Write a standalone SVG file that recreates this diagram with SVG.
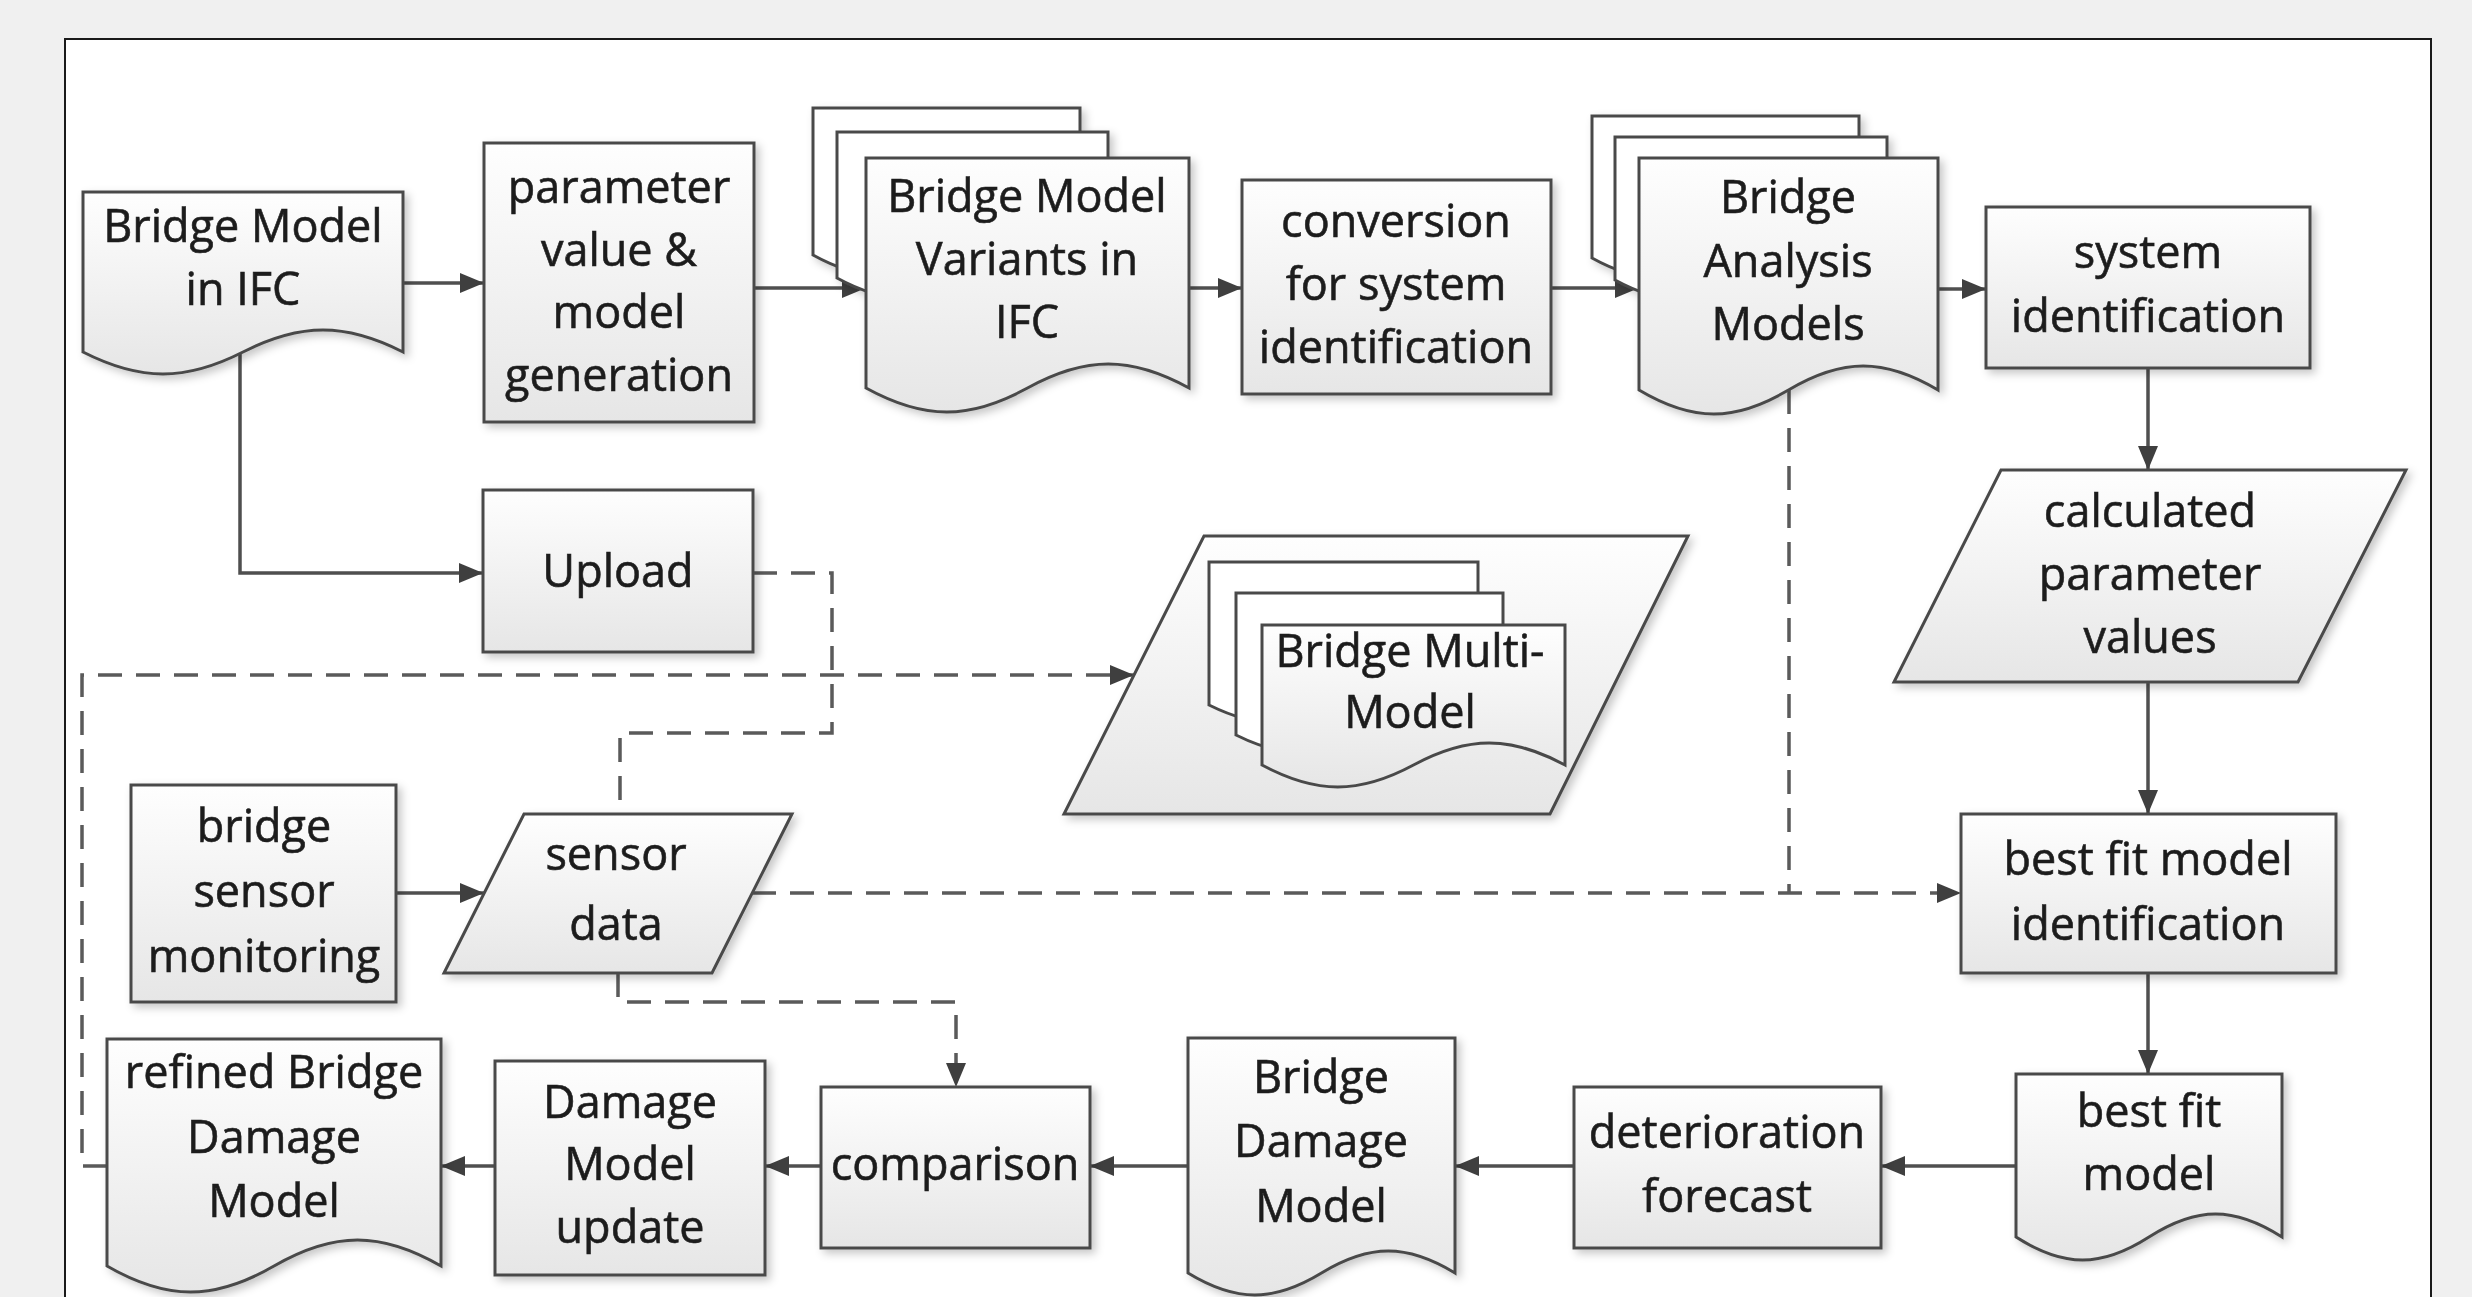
<svg xmlns="http://www.w3.org/2000/svg" width="2472" height="1297" viewBox="0 0 2472 1297">
  <defs>
    <linearGradient id="fillGrad" x1="0" y1="0" x2="0" y2="1">
      <stop offset="0" stop-color="#fefefe"/>
      <stop offset="1" stop-color="#e6e6e6"/>
    </linearGradient>
    <filter id="shadow" x="-10%" y="-10%" width="125%" height="125%">
      <feDropShadow dx="4" dy="4" stdDeviation="4" flood-color="#000" flood-opacity="0.22"/>
    </filter>
    <marker id="arrow" viewBox="0 0 24 20" refX="24" refY="10" markerWidth="24" markerHeight="20" markerUnits="userSpaceOnUse" orient="auto">
      <path d="M0,0 L24,10 L0,20 Z" fill="#3f3f3f"/>
    </marker>
    <style>
      .shape { fill: url(#fillGrad); stroke: #4a4a4a; stroke-width: 3; }
      .sheet { fill: #ffffff; stroke: #4a4a4a; stroke-width: 3; }
      .node { filter: url(#shadow); }
      .label { font-family: "Open Sans", "Noto Sans", sans-serif; font-size: 45px; fill: #1e1e1e; stroke: #1e1e1e; stroke-width: 0.6; text-anchor: middle; }
      .flow { fill: none; stroke: #4f4f4f; stroke-width: 3.5; }
      .dash { fill: none; stroke: #5a5a5a; stroke-width: 3.5; stroke-dasharray: 24 14; }
    </style>
  </defs>

  <!-- page background and frame -->
  <rect x="0" y="0" width="2472" height="1297" fill="#f0f0f0"/>
  <rect x="65" y="39" width="2366" height="1300" fill="#ffffff" stroke="#1a1a1a" stroke-width="2"/>

  <!-- connectors -->
  <g id="connectors">
    <path class="flow" d="M403 283 H484" marker-end="url(#arrow)"/>
    <path class="flow" d="M754 288 H866" marker-end="url(#arrow)"/>
    <path class="flow" d="M1189 288 H1242" marker-end="url(#arrow)"/>
    <path class="flow" d="M1551 288 H1639" marker-end="url(#arrow)"/>
    <path class="flow" d="M1938 289 H1986" marker-end="url(#arrow)"/>
    <path class="flow" d="M2148 368 V470" marker-end="url(#arrow)"/>
    <path class="flow" d="M2148 682 V814" marker-end="url(#arrow)"/>
    <path class="flow" d="M2148 973 V1074" marker-end="url(#arrow)"/>
    <path class="flow" d="M2016 1166 H1881" marker-end="url(#arrow)"/>
    <path class="flow" d="M1574 1166 H1455" marker-end="url(#arrow)"/>
    <path class="flow" d="M1188 1166 H1090" marker-end="url(#arrow)"/>
    <path class="flow" d="M821 1166 H765" marker-end="url(#arrow)"/>
    <path class="flow" d="M495 1166 H441" marker-end="url(#arrow)"/>
    <path class="flow" d="M240 352 V573 H483" marker-end="url(#arrow)"/>
    <path class="flow" d="M396 893 H484" marker-end="url(#arrow)"/>

    <path class="dash" d="M107 1166 H82 V675 H1134" marker-end="url(#arrow)"/>
    <path class="dash" d="M753 573 H832 V733 H620 V814"/>
    <path class="dash" d="M752 893 H1961" marker-end="url(#arrow)"/>
    <path class="dash" d="M1789 390 V893"/>
    <path class="dash" d="M618 973 V1002 H956 V1087" marker-end="url(#arrow)"/>
  </g>

  <!-- Bridge Model in IFC -->
  <g id="bridge-model-ifc" class="node">
    <path class="shape" d="M83 192 H403 V352 C345.4 322.7 300.6 322.7 243 352 C185.4 381.3 140.6 381.3 83 352 Z"/>
    <text class="label" x="243" y="242">Bridge Model</text>
    <text class="label" x="243" y="305">in IFC</text>
  </g>

  <!-- parameter value & model generation -->
  <g id="model-generation" class="node">
    <rect class="shape" x="484" y="143" width="270" height="279"/>
    <text class="label" x="619" y="203">parameter</text>
    <text class="label" x="619" y="266">value &amp;</text>
    <text class="label" x="619" y="328">model</text>
    <text class="label" x="619" y="391">generation</text>
  </g>

  <!-- Bridge Model Variants in IFC (stacked documents) -->
  <g id="model-variants" class="node">
    <path class="sheet" d="M813 108 H1080 V255 C1031.9 228.3 994.6 228.3 946.5 255 C898.4 281.7 861.1 281.7 813 255 Z"/>
    <path class="sheet" d="M837 132 H1108 V278 C1059.2 251.3 1021.3 251.3 972.5 278 C923.7 304.7 885.8 304.7 837 278 Z"/>
    <path class="shape" d="M866 158 H1189 V388 C1130.9 356 1085.6 356 1027.5 388 C969.4 420 924.1 420 866 388 Z"/>
    <text class="label" x="1027" y="212">Bridge Model</text>
    <text class="label" x="1027" y="275">Variants in</text>
    <text class="label" x="1027" y="338">IFC</text>
  </g>

  <!-- conversion for system identification -->
  <g id="conversion" class="node">
    <rect class="shape" x="1242" y="180" width="309" height="214"/>
    <text class="label" x="1396" y="237">conversion</text>
    <text class="label" x="1396" y="300">for system</text>
    <text class="label" x="1396" y="363">identification</text>
  </g>

  <!-- Bridge Analysis Models (stacked documents) -->
  <g id="analysis-models" class="node">
    <path class="sheet" d="M1592 116 H1859 V258 C1810.9 231.3 1773.6 231.3 1725.5 258 C1677.4 284.7 1640.1 284.7 1592 258 Z"/>
    <path class="sheet" d="M1615 137 H1887 V280 C1838 253.3 1800 253.3 1751 280 C1702 306.7 1664 306.7 1615 280 Z"/>
    <path class="shape" d="M1639 158 H1938 V390 C1884.2 358 1842.3 358 1788.5 390 C1734.7 422 1692.8 422 1639 390 Z"/>
    <text class="label" x="1788" y="213">Bridge</text>
    <text class="label" x="1788" y="277">Analysis</text>
    <text class="label" x="1788" y="340">Models</text>
  </g>

  <!-- system identification -->
  <g id="system-identification" class="node">
    <rect class="shape" x="1986" y="207" width="324" height="161"/>
    <text class="label" x="2148" y="268">system</text>
    <text class="label" x="2148" y="332">identification</text>
  </g>

  <!-- calculated parameter values -->
  <g id="calculated-values" class="node">
    <polygon class="shape" points="2001,470 2406,470 2298,682 1894,682"/>
    <text class="label" x="2150" y="527">calculated</text>
    <text class="label" x="2150" y="590">parameter</text>
    <text class="label" x="2150" y="653">values</text>
  </g>

  <!-- best fit model identification -->
  <g id="best-fit-identification" class="node">
    <rect class="shape" x="1961" y="814" width="375" height="159"/>
    <text class="label" x="2148" y="875">best fit model</text>
    <text class="label" x="2148" y="940">identification</text>
  </g>

  <!-- best fit model -->
  <g id="best-fit-model" class="node">
    <path class="shape" d="M2016 1074 H2282 V1237 C2234.1 1206.3 2196.9 1206.3 2149 1237 C2101.1 1267.7 2063.9 1267.7 2016 1237 Z"/>
    <text class="label" x="2149" y="1127">best fit</text>
    <text class="label" x="2149" y="1190">model</text>
  </g>

  <!-- deterioration forecast -->
  <g id="deterioration-forecast" class="node">
    <rect class="shape" x="1574" y="1087" width="307" height="161"/>
    <text class="label" x="1727" y="1148">deterioration</text>
    <text class="label" x="1727" y="1212">forecast</text>
  </g>

  <!-- Bridge Damage Model -->
  <g id="bridge-damage-model" class="node">
    <path class="shape" d="M1188 1038 H1455 V1273 C1406.9 1243.7 1369.6 1243.7 1321.5 1273 C1273.4 1302.3 1236.1 1302.3 1188 1273 Z"/>
    <text class="label" x="1321" y="1093">Bridge</text>
    <text class="label" x="1321" y="1157">Damage</text>
    <text class="label" x="1321" y="1222">Model</text>
  </g>

  <!-- comparison -->
  <g id="comparison" class="node">
    <rect class="shape" x="821" y="1087" width="269" height="161"/>
    <text class="label" x="955" y="1180">comparison</text>
  </g>

  <!-- Damage Model update -->
  <g id="damage-model-update" class="node">
    <rect class="shape" x="495" y="1061" width="270" height="214"/>
    <text class="label" x="630" y="1118">Damage</text>
    <text class="label" x="630" y="1180">Model</text>
    <text class="label" x="630" y="1243">update</text>
  </g>

  <!-- refined Bridge Damage Model -->
  <g id="refined-damage-model" class="node">
    <path class="shape" d="M107 1039 H441 V1266 C380.9 1231.3 334.1 1231.3 274 1266 C213.9 1300.7 167.1 1300.7 107 1266 Z"/>
    <text class="label" x="274" y="1088">refined Bridge</text>
    <text class="label" x="274" y="1153">Damage</text>
    <text class="label" x="274" y="1217">Model</text>
  </g>

  <!-- Upload -->
  <g id="upload" class="node">
    <rect class="shape" x="483" y="490" width="270" height="162"/>
    <text class="label" x="618" y="587">Upload</text>
  </g>

  <!-- Bridge Multi-Model -->
  <g id="multi-model" class="node">
    <polygon class="shape" points="1204,536 1688,536 1550,814 1064,814"/>
    <path class="sheet" d="M1209 562 H1478 V705 C1429.6 681 1391.9 681 1343.5 705 C1295.1 729 1257.4 729 1209 705 Z"/>
    <path class="sheet" d="M1236 593 H1503 V735 C1454.9 711 1417.6 711 1369.5 735 C1321.4 759 1284.1 759 1236 735 Z"/>
    <path class="shape" d="M1262 625 H1565 V765 C1510.5 735.7 1468 735.7 1413.5 765 C1359 794.3 1316.5 794.3 1262 765 Z"/>
    <text class="label" x="1410" y="667">Bridge Multi-</text>
    <text class="label" x="1410" y="728">Model</text>
  </g>

  <!-- bridge sensor monitoring -->
  <g id="sensor-monitoring" class="node">
    <rect class="shape" x="131" y="785" width="265" height="217"/>
    <text class="label" x="264" y="842">bridge</text>
    <text class="label" x="264" y="907">sensor</text>
    <text class="label" x="264" y="972">monitoring</text>
  </g>

  <!-- sensor data -->
  <g id="sensor-data" class="node">
    <polygon class="shape" points="524,814 792,814 712,973 444,973"/>
    <text class="label" x="616" y="870">sensor</text>
    <text class="label" x="616" y="940">data</text>
  </g>
</svg>
